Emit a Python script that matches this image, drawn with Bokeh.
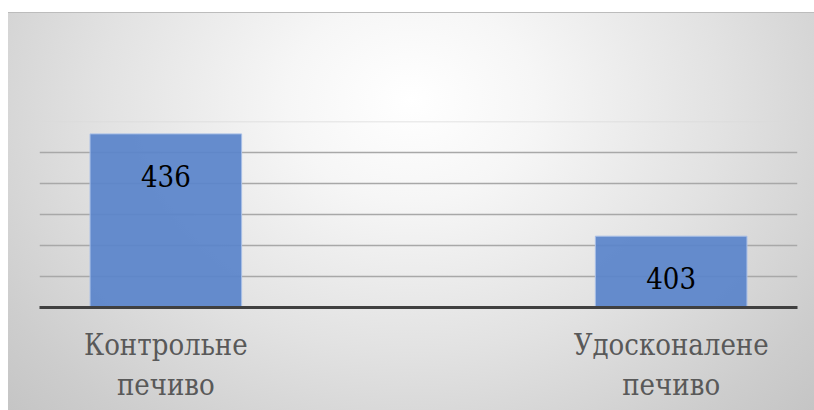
from bokeh.plotting import figure
from bokeh.models import Range1d, FixedTicker, SingleIntervalTicker, Span, ColumnDataSource
from bokeh.core.properties import value
from bokeh.embed import file_html
from bokeh.resources import INLINE

# Cookie comparison data
categories = ["Контрольне печиво", "Удосконалене печиво"]
counts = [436, 403]
y_min, y_max, y_step = 380, 440, 10

SERIF = "DejaVu Serif Condensed"

# Bars sit on every other slot so that an empty slot separates them
xs = [2 * i for i in range(len(categories))]
labels = {x: c.replace(" ", "\n") for x, c in zip(xs, categories)}

src = ColumnDataSource(data=dict(x=xs, top=counts, txt=[str(v) for v in counts]))

p = figure(
    width=814, height=410,
    x_range=Range1d(-0.5, xs[-1] + 0.5),
    y_range=Range1d(y_min, y_max),
    output_backend="svg", toolbar_location=None,
    min_border_left=39, min_border_right=17,
    min_border_top=121, min_border_bottom=103,
)

# Transparent canvas; the soft radial backdrop comes from CSS on the host element
p.background_fill_alpha = 0
p.border_fill_alpha = 0
p.outline_line_color = None
p.styles = {
    "background": (
        "linear-gradient(#bcbcbc, #bcbcbc) 8px 12px / 806px 1px no-repeat, "
        "radial-gradient(ellipse 70% 115% at 50% 22%, #ffffff 0%, #f6f6f6 22%, "
        "#e2e2e2 55%, #cdcdcd 85%, #c4c4c4 100%) 8px 12px / 806px 398px no-repeat, "
        "#ffffff"
    )
}

p.vbar(x="x", top="top", bottom=y_min, width=0.6, source=src,
       fill_color="#5a84ca", fill_alpha=0.93, line_color="#a9bfe6", line_width=1)

p.text(x="x", y="top", text="txt", source=src, y_offset=42,
       text_align="center", text_baseline="alphabetic",
       text_font=value(SERIF), text_font_size="29px", text_color="#000000")

# Horizontal gridlines
p.xgrid.visible = False
p.yaxis.visible = False
p.yaxis.ticker = SingleIntervalTicker(interval=y_step)
p.ygrid.ticker = SingleIntervalTicker(interval=y_step)
p.ygrid.grid_line_color = "#a8a8a8"
p.ygrid.grid_line_width = 1.5
p.ygrid.level = "underlay"
p.add_layout(Span(location=y_max, dimension="width", line_color="#dadada",
                  line_width=1.5, level="underlay"))

# Category axis with the dark baseline
ax = p.xaxis[0]
ax.ticker = FixedTicker(ticks=xs)
ax.major_label_overrides = labels
ax.axis_line_color = "#404040"
ax.axis_line_width = 3
ax.major_tick_line_color = None
ax.minor_tick_line_color = None
ax.major_tick_out = 0
ax.major_tick_in = 0
ax.major_label_standoff = 20
ax.major_label_text_font = SERIF
ax.major_label_text_font_size = "29px"
ax.major_label_text_color = "#595959"

open("out.html", "w").write(file_html(p, INLINE))
